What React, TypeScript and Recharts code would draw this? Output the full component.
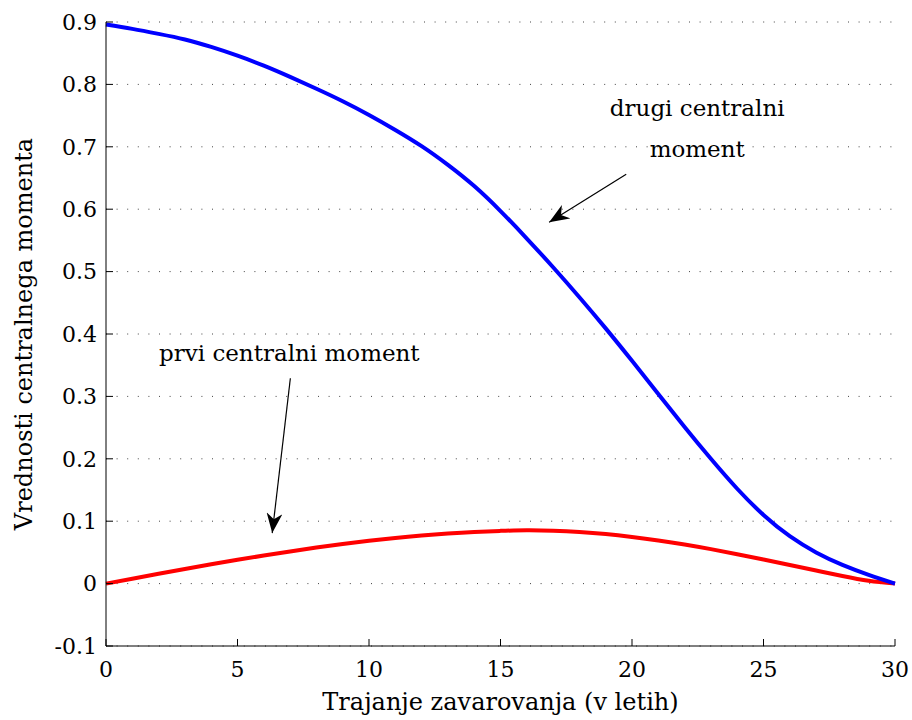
import React from "react";
import {
  LineChart,
  Line,
  XAxis,
  YAxis,
  CartesianGrid,
  ReferenceLine,
  ReferenceDot,
} from "recharts";

const years = [0, 1, 2, 3, 4, 5, 6, 7, 8, 9, 10, 11, 12, 13, 14, 15, 16, 17, 18, 19, 20, 21, 22, 23, 24, 25, 26, 27, 28, 29, 30];
const drugiMoment = [0.896, 0.889, 0.881, 0.872, 0.86, 0.846, 0.83, 0.812, 0.793, 0.773, 0.751, 0.727, 0.701, 0.671, 0.637, 0.597, 0.553, 0.507, 0.459, 0.409, 0.357, 0.304, 0.251, 0.2, 0.152, 0.11, 0.076, 0.05, 0.03, 0.014, 0.0];
const prviMoment = [0, 0.0079, 0.0157, 0.0234, 0.0309, 0.0381, 0.045, 0.0516, 0.0578, 0.0634, 0.0685, 0.0732, 0.0771, 0.0803, 0.0828, 0.0845, 0.0855, 0.0848, 0.0828, 0.0795, 0.0748, 0.0692, 0.0627, 0.0552, 0.047, 0.0385, 0.0298, 0.021, 0.0122, 0.0045, 0];
const xTicks = [0, 5, 10, 15, 20, 25, 30];
const yTicks = [-0.1, 0, 0.1, 0.2, 0.3, 0.4, 0.5, 0.6, 0.7, 0.8, 0.9];

const xLabel = "Trajanje zavarovanja (v letih)";
const yLabel = "Vrednosti centralnega momenta";

const drugiLabel = { x: 22.48, line1: 0.749, line2: 0.684, text1: "drugi centralni", text2: "moment" };
const drugiArrow = { x1: 19.78, y1: 0.656, x2: 16.85, y2: 0.579 };
const prviLabel = { x: 6.97, y: 0.357, text: "prvi centralni moment" };
const prviArrow = { x1: 7.01, y1: 0.329, x2: 6.32, y2: 0.081 };

const data = years.map((t, i) => ({ t, drugi: drugiMoment[i], prvi: prviMoment[i] }));

const FONT = "'DejaVu Serif', 'Liberation Serif', serif";
const emptyTick = () => <g />;

export default function App() {
  return (
    <div style={{ position: "absolute", left: 0, top: 0, background: "#fff" }}>
      <LineChart
        width={912}
        height={720}
        data={data}
        margin={{ top: 22, right: 17, bottom: 0, left: 0 }}
        style={{ fontFamily: FONT }}
      >
        <defs>
          <marker
            id="arrowHead"
            markerWidth="20"
            markerHeight="16"
            refX="20"
            refY="8"
            orient="auto"
            markerUnits="userSpaceOnUse"
          >
            <path d="M0,0 L20,8 L0,16 L6,8 Z" fill="#000" />
          </marker>
        </defs>
        <CartesianGrid
          vertical={false}
          horizontal={true}
          stroke="#444"
          strokeDasharray="1 9.6"
          horizontalValues={yTicks}
        />
        <XAxis
          dataKey="t"
          type="number"
          domain={[0, 30]}
          ticks={xTicks}
          height={74}
          tickSize={-7}
          tickMargin={22}
          stroke="#000"
          tick={{ fill: "#000", fontSize: 22, fontFamily: FONT }}
          label={{
            content: (p: any) => {
              const vb = p.viewBox;
              return (
                <text x={vb.x + vb.width / 2} y={710} textAnchor="middle" fontSize={24} fill="#000" fontFamily={FONT}>
                  {xLabel}
                </text>
              );
            },
          }}
        />
        <XAxis
          xAxisId="top"
          dataKey="t"
          type="number"
          orientation="top"
          domain={[0, 30]}
          ticks={xTicks}
          height={0}
          tickSize={-7}
          stroke="#000"
          tick={emptyTick}
        />
        <YAxis
          type="number"
          domain={[-0.1, 0.9]}
          ticks={yTicks}
          width={106}
          tickSize={-7}
          tickMargin={16}
          stroke="#000"
          tick={{ fill: "#000", fontSize: 22, fontFamily: FONT }}
          label={{
            content: (p: any) => {
              const vb = p.viewBox;
              const cx = 32;
              const cy = vb.y + vb.height / 2;
              return (
                <text
                  x={cx}
                  y={cy}
                  transform={`rotate(-90, ${cx}, ${cy})`}
                  textAnchor="middle"
                  fontSize={24}
                  fill="#000"
                  fontFamily={FONT}
                >
                  {yLabel}
                </text>
              );
            },
          }}
        />
        <YAxis
          yAxisId="right"
          orientation="right"
          type="number"
          domain={[-0.1, 0.9]}
          ticks={yTicks}
          width={0}
          tickSize={-7}
          stroke="#000"
          tick={emptyTick}
        />
        <Line
          type="natural"
          dataKey="prvi"
          stroke="#ff0000"
          strokeWidth={4}
          dot={false}
          activeDot={false}
          isAnimationActive={false}
        />
        <Line
          type="natural"
          dataKey="drugi"
          stroke="#0000ff"
          strokeWidth={4}
          dot={false}
          activeDot={false}
          isAnimationActive={false}
        />
        <ReferenceLine
          segment={[
            { x: drugiArrow.x1, y: drugiArrow.y1 },
            { x: drugiArrow.x2, y: drugiArrow.y2 },
          ]}
          stroke="#000"
          strokeWidth={1.2}
          markerEnd="url(#arrowHead)"
        />
        <ReferenceLine
          segment={[
            { x: prviArrow.x1, y: prviArrow.y1 },
            { x: prviArrow.x2, y: prviArrow.y2 },
          ]}
          stroke="#000"
          strokeWidth={1.2}
          markerEnd="url(#arrowHead)"
        />
        <ReferenceDot
          x={drugiLabel.x}
          y={drugiLabel.line1}
          r={0}
          shape={(p: any) => (
            <text x={p.cx} y={p.cy} textAnchor="middle" fontSize={23} fill="#000" fontFamily={FONT}>
              {drugiLabel.text1}
            </text>
          )}
        />
        <ReferenceDot
          x={drugiLabel.x}
          y={drugiLabel.line2}
          r={0}
          shape={(p: any) => (
            <text x={p.cx} y={p.cy} textAnchor="middle" fontSize={23} fill="#000" fontFamily={FONT}>
              {drugiLabel.text2}
            </text>
          )}
        />
        <ReferenceDot
          x={prviLabel.x}
          y={prviLabel.y}
          r={0}
          shape={(p: any) => (
            <text x={p.cx} y={p.cy} textAnchor="middle" fontSize={23} fill="#000" fontFamily={FONT}>
              {prviLabel.text}
            </text>
          )}
        />
      </LineChart>
    </div>
  );
}
